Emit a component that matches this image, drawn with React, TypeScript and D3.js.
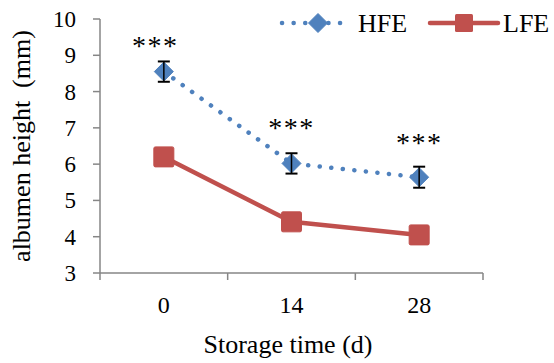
import React from "react";
import * as d3 from "d3";

const categories = ["0", "14", "28"];
const hfeValues = [8.55, 6.02, 5.64];
const hfeErrors = [0.28, 0.28, 0.29];
const lfeValues = [6.2, 4.41, 4.05];
const lfeErrors = [0.22, 0.22, 0.22];
const yTicks = [3, 4, 5, 6, 7, 8, 9, 10];
const sigLabels = ["***", "***", "***"];
const sigLevels = [9.43, 7.15, 6.76];

const W = 554, H = 363;
const left = 100, right = 483, top = 19, bottom = 273;
const BLUE = "#4F81BD", RED = "#C0504D", AXIS = "#868686";
const FONT = "Liberation Serif, Tinos, Times New Roman, DejaVu Serif, serif";
const txt = { fontFamily: FONT };

export default function App() {
  const x = d3.scaleBand<string>().domain(categories).range([left, right]);
  const y = d3.scaleLinear().domain([3, 10]).range([bottom, top]);
  const cx = (c: string) => (x(c) as number) + x.bandwidth() / 2;
  const line = d3.line<number>().x((_, i) => cx(categories[i])).y((v) => y(v));
  const diamond = (px: number, py: number, r: number) =>
    `M${px},${py - r}L${px + r},${py}L${px},${py + r}L${px - r},${py}Z`;
  const errBar = (px: number, v: number, e: number) => (
    <g>
      <line x1={px} x2={px} y1={y(v + e)} y2={y(v - e)} stroke="#000" strokeWidth={1.5} />
      <line x1={px - 6} x2={px + 6} y1={y(v + e)} y2={y(v + e)} stroke="#000" strokeWidth={2} />
      <line x1={px - 6} x2={px + 6} y1={y(v - e)} y2={y(v - e)} stroke="#000" strokeWidth={2} />
    </g>
  );

  return (
    <svg width={W} height={H} style={{ position: "absolute", left: 0, top: 0, background: "#fff" }}>
      {/* y axis */}
      <line x1={left} x2={left} y1={top} y2={bottom} stroke={AXIS} strokeWidth={1.5} />
      {yTicks.map((t) => (
        <g key={t}>
          <line x1={left - 7} x2={left} y1={y(t)} y2={y(t)} stroke={AXIS} strokeWidth={1.5} />
          <text x={76} y={y(t) + 8} textAnchor="end" style={txt} fontSize={23} fill="#000">{t}</text>
        </g>
      ))}
      {/* x axis */}
      <line x1={left} x2={right} y1={bottom} y2={bottom} stroke={AXIS} strokeWidth={1.5} />
      {[left, ...categories.map((c) => (x(c) as number) + x.bandwidth())].map((px, i) => (
        <line key={i} x1={px} x2={px} y1={bottom} y2={bottom + 7} stroke={AXIS} strokeWidth={1.5} />
      ))}
      {categories.map((c) => (
        <text key={c} x={cx(c)} y={313} textAnchor="middle" style={txt} fontSize={24} fill="#000">{c}</text>
      ))}
      <text x={288} y={353} textAnchor="middle" style={txt} fontSize={26} fill="#000">Storage time (d)</text>
      <text transform={`translate(30,146) rotate(-90)`} textAnchor="middle" style={{ ...txt, whiteSpace: "pre" }} fontSize={26} fill="#000">albumen height  (mm)</text>

      {/* LFE */}
      <path d={line(lfeValues) as string} fill="none" stroke={RED} strokeWidth={4.5} strokeLinejoin="round" />
      {lfeValues.map((v, i) => {
        const px = cx(categories[i]);
        return (
          <g key={i}>
            {errBar(px, v, lfeErrors[i])}
            <rect x={px - 10} y={y(v) - 10} width={20} height={20} fill={RED} stroke={RED} strokeWidth={1} rx={1.5} />
          </g>
        );
      })}

      {/* HFE */}
      <path d={line(hfeValues) as string} fill="none" stroke={BLUE} strokeWidth={4.5} strokeLinecap="round" strokeDasharray="0.1 11.5" />
      {hfeValues.map((v, i) => {
        const px = cx(categories[i]);
        return (
          <g key={i}>
            <path d={diamond(px, y(v), 9.5)} fill={BLUE} stroke={BLUE} strokeWidth={1} strokeLinejoin="round" />
            {errBar(px, v, hfeErrors[i])}
          </g>
        );
      })}
      {sigLabels.map((s, i) => (
        <text key={i} x={cx(categories[i]) - (i === 0 ? 8.5 : 0)} y={y(sigLevels[i]) + 15} textAnchor="middle" style={txt} fontSize={28} letterSpacing={1.5} fill="#000">{s}</text>
      ))}

      {/* legend */}
      <line x1={282} x2={344} y1={23} y2={23} stroke={BLUE} strokeWidth={4.5} strokeLinecap="round" strokeDasharray="0.1 11.5" />
      <path d={diamond(318, 23, 9.5)} fill={BLUE} stroke={BLUE} strokeWidth={1} />
      <text x={358} y={32} style={txt} fontSize={26} fill="#000">HFE</text>
      <line x1={430} x2={498} y1={23} y2={23} stroke={RED} strokeWidth={4.5} strokeLinecap="round" />
      <rect x={455} y={14} width={18} height={18} fill={RED} rx={1.5} />
      <text x={503} y={32} style={txt} fontSize={26} fill="#000">LFE</text>
    </svg>
  );
}
